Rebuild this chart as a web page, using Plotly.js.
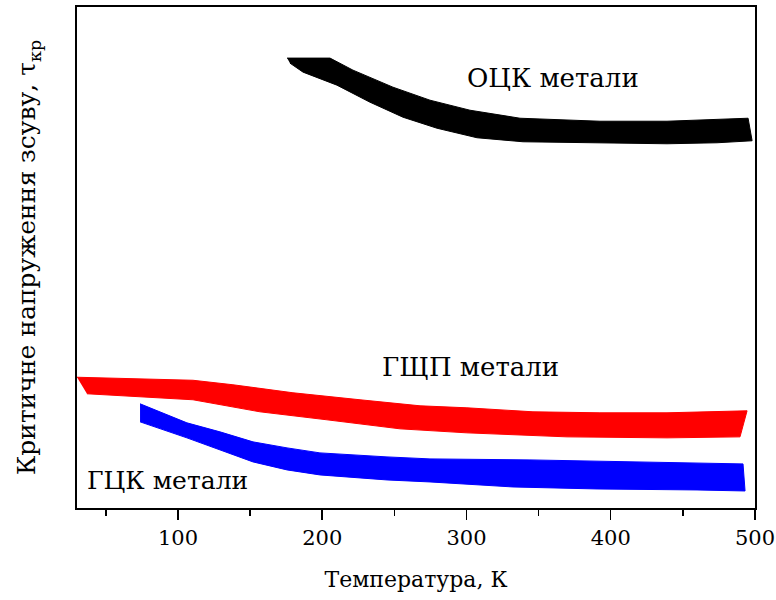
<!DOCTYPE html>
<html>
<head>
<meta charset="utf-8">
<script src="https://cdn.plot.ly/plotly-3.0.1.min.js"></script>
<style>html,body{margin:0;padding:0;background:#fff;}</style>
</head>
<body>
<div id="chart" style="width:776px;height:600px;"></div>
<script>
// ОЦК (BCC) band
const bccUpperX = [175.6, 205.4, 221.3, 249.0, 274.7, 302.4, 337.1, 392.5, 439.0, 473.7, 495.2, 498.0];
const bccUpperY = [89.8, 89.8, 87.4, 84.0, 81.4, 79.4, 77.8, 77.2, 77.2, 77.6, 77.8, 73.3];
const bccLowerX = [177.6, 186.7, 210.2, 233.1, 256.0, 279.6, 307.3, 339.2, 392.5, 439.0, 473.7];
const bccLowerY = [88.8, 87.0, 84.4, 81.0, 78.0, 75.8, 73.9, 73.1, 72.9, 72.7, 72.9];

// ГЩП (HCP) band
const hcpUpperX = [30.0, 110.4, 138.1, 179.7, 226.2, 267.8, 300.3, 346.1, 392.5, 439.0, 494.5, 489.6];
const hcpUpperY = [26.1, 25.5, 24.6, 23.0, 21.6, 20.4, 20.0, 19.2, 19.0, 19.0, 19.4, 14.2];
const hcpLowerX = [36.9, 110.4, 156.8, 203.3, 253.9, 300.3, 369.7, 439.0];
const hcpLowerY = [22.8, 21.6, 19.2, 17.6, 15.8, 15.0, 14.2, 14.0];

// ГЦК (FCC) band
const fccUpperX = [73.7, 87.5, 106.2, 129.1, 152.0, 175.6, 198.4, 244.9, 274.7, 344.0, 413.3, 491.7, 493.1];
const fccUpperY = [20.8, 19.2, 17.0, 15.2, 13.2, 12.0, 11.0, 10.2, 9.8, 9.6, 9.2, 8.8, 3.4];
const fccLowerX = [73.7, 106.2, 129.1, 152.0, 175.6, 198.4, 244.9, 274.7, 332.2, 390.5, 459.8];
const fccLowerY = [17.2, 14.0, 11.6, 9.2, 7.6, 6.6, 5.6, 5.2, 4.2, 3.8, 3.6];

const xTickVals = [100, 200, 300, 400, 500];
const labels = ['ОЦК метали', 'ГЩП метали', 'ГЦК метали'];

function band(ux, uy, lx, ly, color) {
  return {
    type: 'scatter', mode: 'lines', fill: 'toself',
    x: ux.concat(lx.slice().reverse()),
    y: uy.concat(ly.slice().reverse()),
    fillcolor: color, line: {color: color, width: 1},
    hoverinfo: 'skip', showlegend: false
  };
}

const data = [
  band(bccUpperX, bccUpperY, bccLowerX, bccLowerY, '#000000'),
  band(hcpUpperX, hcpUpperY, hcpLowerX, hcpLowerY, '#ff0000'),
  band(fccUpperX, fccUpperY, fccLowerX, fccLowerY, '#0000ff')
];

const serif = 'DejaVu Serif';
const layout = {
  width: 776, height: 600,
  margin: {l: 77, r: 21, t: 7, b: 92},
  paper_bgcolor: '#fff', plot_bgcolor: '#fff',
  showlegend: false,
  font: {family: serif, color: '#000', size: 22},
  xaxis: {
    range: [30, 500], tickvals: xTickVals, ticktext: xTickVals.map(String),
    ticks: 'outside', ticklen: 10, tickwidth: 1.5, tickcolor: '#000',
    minor: {dtick: 50, tick0: 0, ticks: 'outside', ticklen: 6, tickwidth: 1.5, tickcolor: '#000'},
    showline: true, mirror: true, linecolor: '#000', linewidth: 2,
    showgrid: false, zeroline: false, ticklabeloverflow: 'allow',
    tickfont: {family: serif, size: 21, color: '#000'},
    title: {text: 'Температура, К', font: {family: serif, size: 22, color: '#000'}, standoff: 22}
  },
  yaxis: {
    range: [0, 100], showticklabels: false, ticks: '',
    showline: true, mirror: true, linecolor: '#000', linewidth: 2,
    showgrid: false, zeroline: false,
    title: {text: 'Критичне напруження зсуву, τ<sub>кр</sub>', font: {family: serif, size: 25, color: '#000'}, standoff: 32}
  },
  annotations: [
    {x: 360, y: 85.8, xref: 'x', yref: 'y', text: labels[0], showarrow: false, font: {family: serif, size: 26, color: '#000'}},
    {x: 303, y: 28.1, xref: 'x', yref: 'y', text: labels[1], showarrow: false, font: {family: serif, size: 26, color: '#000'}},
    {x: 93, y: 5.4, xref: 'x', yref: 'y', text: labels[2], showarrow: false, font: {family: serif, size: 25, color: '#000'}}
  ]
};

Plotly.newPlot('chart', data, layout, {displayModeBar: false, staticPlot: true});
</script>
</body>
</html>
